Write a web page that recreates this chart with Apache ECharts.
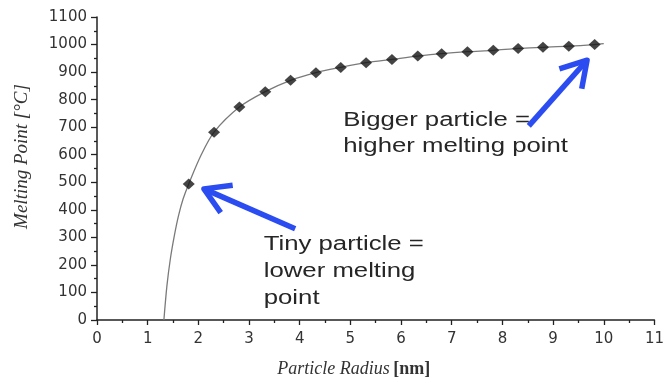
<!DOCTYPE html>
<html>
<head>
<meta charset="utf-8">
<title>Melting point vs particle radius</title>
<script src="https://cdn.jsdelivr.net/npm/echarts@6.0.0/dist/echarts.min.js"></script>
<style>
  html, body { margin: 0; padding: 0; background: #ffffff; }
  #chart { width: 667px; height: 383px; }
</style>
</head>
<body>
<div id="chart"></div>
<script>
// Measured points: particle radius (nm) and melting point (°C)
const radiusNm = [1.81, 2.31, 2.81, 3.32, 3.82, 4.32, 4.81, 5.31, 5.82, 6.33, 6.80, 7.31, 7.82, 8.31, 8.80, 9.31, 9.82];
const meltingC = [494, 682, 773, 829, 870, 898, 917, 934, 946, 958, 967, 974, 979, 986, 990, 994, 1000];

// Fitted trend curve traced through the points (radius, °C)
const curveRadius = [1.32, 1.38, 1.45, 1.53, 1.61, 1.70, 1.81, 2.05, 2.31, 2.81, 3.32, 3.82, 4.32, 4.81, 5.31, 5.82, 6.33, 6.80, 7.31, 7.82, 8.31, 8.80, 9.31, 9.82, 10.0];
const curveMelting = [0, 125, 225, 310, 380, 440, 494, 597, 682, 773, 829, 870, 898, 917, 934, 946, 958, 967, 974, 979, 986, 990, 994, 1000, 1003];

// Axis ranges
const xRange = [0, 11];
const yRange = [0, 1100];

// Annotation arrows: [tailX, tailY, headX, headY] in data units
const arrows = [
  [3.91, 331, 2.11, 476],
  [8.52, 705, 9.67, 943]
];

// Annotation text lines anchored at their left edge (data units)
const noteLines = ['Bigger particle =', 'higher melting point', 'Tiny particle =', 'lower melting', 'point'];
const noteAnchors = [[4.86, 723], [4.86, 630], [3.29, 274], [3.29, 175], [3.29, 79]];

const chart = echarts.init(document.getElementById('chart'), null, { renderer: 'canvas' });

const axisColor = '#222';
const tickFont = { fontFamily: 'DejaVu Sans', fontSize: 15, color: '#333', formatter: v => String(v) };
const arrowBlue = '#2b4cf0';

const option = {
  backgroundColor: '#ffffff',
  animation: false,
  grid: { left: 97, right: 9, top: 17, bottom: 61 },
  xAxis: {
    type: 'value',
    min: xRange[0],
    max: xRange[1],
    interval: 1,
    name: '{t|Particle Radius} {u|[nm]}',
    nameLocation: 'middle',
    nameGap: 40,
    nameTextStyle: {
      padding: [0, 44, 0, 0],
      rich: {
        t: { fontFamily: 'Liberation Serif', fontStyle: 'italic', fontSize: 18, color: '#333' },
        u: { fontFamily: 'Liberation Serif', fontWeight: 'bold', fontSize: 18, color: '#333' }
      }
    },
    axisLine: { show: true, onZero: false, lineStyle: { color: axisColor, width: 1.5 } },
    axisTick: { show: true, length: 5, lineStyle: { color: axisColor, width: 1.3 } },
    minorTick: { show: true, splitNumber: 2, length: 3, lineStyle: { color: axisColor, width: 1.3 } },
    axisLabel: Object.assign({ margin: 12 }, tickFont),
    splitLine: { show: false }
  },
  yAxis: {
    type: 'value',
    min: yRange[0],
    max: yRange[1],
    interval: 100,
    name: 'Melting Point [°C]',
    nameLocation: 'middle',
    nameGap: 66,
    nameRotate: 90,
    nameTextStyle: {
      fontFamily: 'Liberation Serif',
      fontStyle: 'italic',
      fontSize: 19,
      color: '#333',
      padding: [0, 0, 0, 24]
    },
    axisLine: { show: true, onZero: false, lineStyle: { color: axisColor, width: 1.5 } },
    axisTick: { show: true, length: 6, lineStyle: { color: axisColor, width: 1.3 } },
    minorTick: { show: true, splitNumber: 2, length: 3, lineStyle: { color: axisColor, width: 1.3 } },
    axisLabel: Object.assign({ margin: 10 }, tickFont),
    splitLine: { show: false }
  },
  series: [
    {
      name: 'trend',
      type: 'line',
      data: curveRadius.map((r, i) => [r, curveMelting[i]]),
      smooth: 0.3,
      showSymbol: false,
      symbol: 'none',
      lineStyle: { color: '#7a7a7a', width: 1.3 },
      z: 2
    },
    {
      name: 'measured',
      type: 'scatter',
      data: radiusNm.map((r, i) => [r, meltingC[i]]),
      symbol: 'diamond',
      symbolSize: [12, 11],
      itemStyle: { color: '#151515' },
      z: 3
    },
    {
      name: 'arrows',
      type: 'custom',
      clip: false,
      z: 4,
      data: arrows,
      encode: { x: [0, 2], y: [1, 3] },
      renderItem: function (params, api) {
        const tail = api.coord([api.value(0), api.value(1)]);
        const tip = api.coord([api.value(2), api.value(3)]);
        const ang = Math.atan2(tail[1] - tip[1], tail[0] - tip[0]);
        const arm = 29, spread = Math.PI / 5.8;
        const a1 = [tip[0] + arm * Math.cos(ang - spread), tip[1] + arm * Math.sin(ang - spread)];
        const a2 = [tip[0] + arm * Math.cos(ang + spread), tip[1] + arm * Math.sin(ang + spread)];
        const st = { stroke: arrowBlue, lineWidth: 5.5, fill: null, lineJoin: 'round', lineCap: 'butt' };
        return {
          type: 'group',
          children: [
            { type: 'line', shape: { x1: tail[0], y1: tail[1], x2: tip[0], y2: tip[1] }, style: st },
            { type: 'polyline', shape: { points: [a1, tip, a2] }, style: st }
          ]
        };
      }
    },
    {
      name: 'notes',
      type: 'custom',
      clip: false,
      z: 5,
      data: noteAnchors,
      encode: { x: 0, y: 1 },
      renderItem: function (params, api) {
        const p = api.coord([api.value(0), api.value(1)]);
        return {
          type: 'text',
          x: p[0],
          y: p[1],
          scaleX: 1.32,
          style: {
            text: noteLines[params.dataIndex],
            x: 0,
            y: 0,
            fill: '#262626',
            fontFamily: 'Liberation Sans',
            fontSize: 19.5,
            align: 'left',
            verticalAlign: 'middle'
          }
        };
      }
    }
  ]
};

chart.setOption(option);
</script>
</body>
</html>
